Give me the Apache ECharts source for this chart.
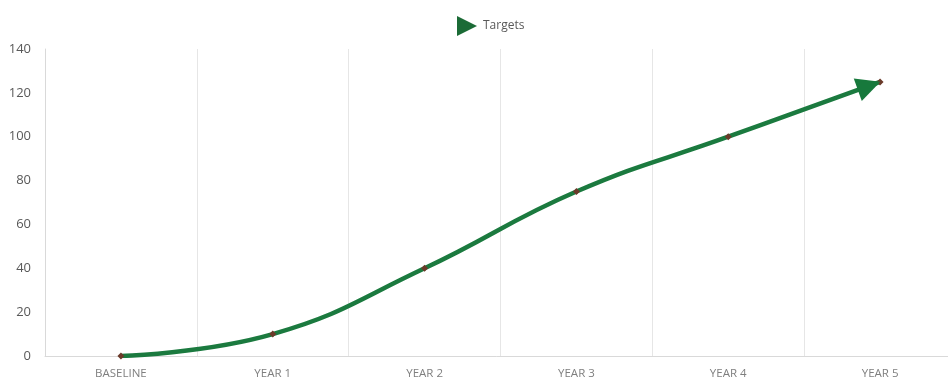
<!DOCTYPE html>
<html>
<head>
<meta charset="utf-8">
<script src="https://cdn.jsdelivr.net/npm/echarts@6/dist/echarts.min.js"></script>
<style>html,body{margin:0;padding:0;background:#fff}#c{width:948px;height:382px}</style>
</head>
<body>
<div id="c"></div>
<script>
const categories = ['BASELINE', 'YEAR 1', 'YEAR 2', 'YEAR 3', 'YEAR 4', 'YEAR 5'];
const targets = [0, 10, 40, 75, 100, 125];
const yTicks = [0, 20, 40, 60, 80, 100, 120, 140];

const chart = echarts.init(document.getElementById('c'));
const last = categories.length - 1;
chart.setOption({
  animation: false,
  legend: {
    top: 11,
    left: 452,
    itemWidth: 22,
    itemHeight: 20,
    itemGap: 6,
    data: [{ name: 'Targets', icon: 'path://M0,0 L10,5 L0,10 Z', itemStyle: { color: '#1b6b36' } }],
    textStyle: { color: '#595959', fontSize: 12, fontFamily: 'Open Sans' }
  },
  grid: { left: 45, top: 49, bottom: 26, width: 911, outerBoundsMode: 'none', containLabel: false },
  xAxis: {
    type: 'category',
    data: categories,
    boundaryGap: true,
    axisLine: { show: true, lineStyle: { color: '#d9d9d9' } },
    axisTick: { show: false },
    splitLine: { show: true, lineStyle: { color: '#e6e6e6' } },
    axisLabel: { color: '#7f7f7f', fontSize: 11.5, fontFamily: 'Open Sans', margin: 12 }
  },
  yAxis: {
    type: 'value',
    min: yTicks[0],
    max: yTicks[yTicks.length - 1],
    interval: 20,
    axisLine: { show: true, lineStyle: { color: '#d9d9d9' } },
    axisTick: { show: false },
    splitLine: { show: false },
    axisLabel: { color: '#595959', fontSize: 13, fontFamily: 'Open Sans', margin: 14 }
  },
  series: [{
    name: 'Targets',
    type: 'line',
    data: targets,
    smooth: 0.45,
    symbol: 'diamond',
    symbolSize: 7,
    lineStyle: { color: '#1b7a3f', width: 4.5 },
    itemStyle: { color: '#6b3a2a', borderWidth: 0 },
    z: 3,
    markPoint: {
      silent: true,
      symbol: 'triangle',
      symbolSize: [24, 24],
      symbolRotate: -70.5,
      symbolOffset: [-11, 3.9],
      itemStyle: { color: '#17793c' },
      label: { show: false },
      data: [{ coord: [last, targets[last]] }]
    }
  }]
});
</script>
</body>
</html>
